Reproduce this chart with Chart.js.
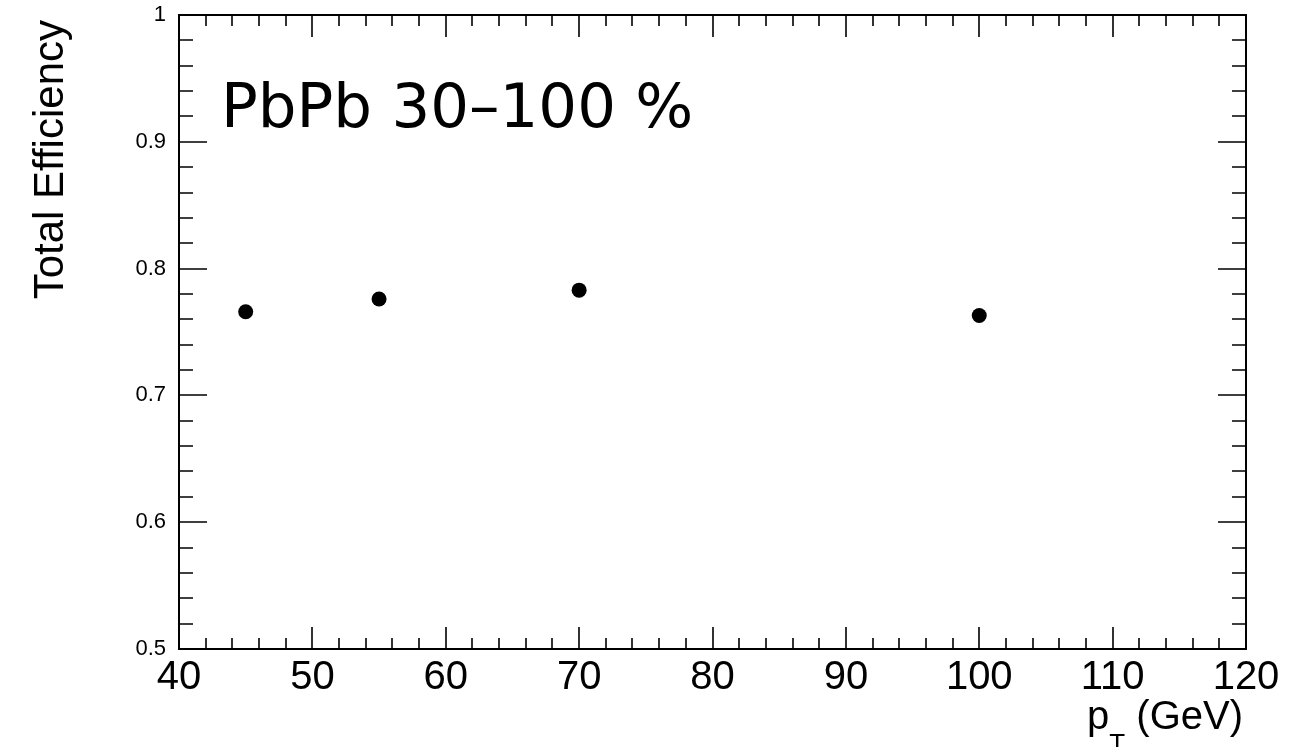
<!DOCTYPE html>
<html><head><meta charset="utf-8">
<script src="https://cdn.jsdelivr.net/npm/chart.js@4"></script>
<style>html,body{margin:0;padding:0;background:#fff;overflow:hidden}canvas{display:block}</style>
</head><body>
<canvas id="c" width="1302" height="747"></canvas>
<script>
const ptValues = [45, 55, 70, 100];
const efficiency = [0.766, 0.776, 0.783, 0.763];
const xTickValues = [40, 50, 60, 70, 80, 90, 100, 110, 120];
const xTickLabels = ['40', '50', '60', '70', '80', '90', '100', '110', '120'];
const yTickValues = [0.5, 0.6, 0.7, 0.8, 0.9, 1.0];
const yTickLabels = ['0.5', '0.6', '0.7', '0.8', '0.9', '1'];
const xMinorStep = 2;
const yMinorStep = 0.02;
const yTitle = 'Total Efficiency';
const xTitleMain = 'p', xTitleSub = 'T', xTitleRest = ' (GeV)';
const annotationText = 'PbPb 30\u2013100 %';

const SANS = "'Liberation Sans', Arial, Helvetica, sans-serif";

const framePlugin = {
  id: 'rootFrame',
  afterDraw(chart) {
    const ctx = chart.ctx, a = chart.chartArea;
    const xs = chart.scales.x, ys = chart.scales.y;
    ctx.save();
    ctx.strokeStyle = '#000';
    ctx.lineWidth = 1.6;
    ctx.beginPath();
    const xMin = xs.min, xMax = xs.max;
    for (let i = 0; xMin + i * xMinorStep <= xMax + 1e-9; i++) {
      const v = xMin + i * xMinorStep;
      const major = xTickValues.some(t => Math.abs(t - v) < 1e-6);
      const len = major ? 22 : 11;
      const px = Math.round(xs.getPixelForValue(v));
      ctx.moveTo(px, a.bottom); ctx.lineTo(px, a.bottom - len);
      ctx.moveTo(px, a.top); ctx.lineTo(px, a.top + len);
    }
    const yMin = ys.min, yMax = ys.max;
    for (let i = 0; yMin + i * yMinorStep <= yMax + 1e-9; i++) {
      const v = yMin + i * yMinorStep;
      const major = yTickValues.some(t => Math.abs(t - v) < 1e-6);
      const len = major ? 28 : 14;
      const py = Math.round(ys.getPixelForValue(v));
      ctx.moveTo(a.left, py); ctx.lineTo(a.left + len, py);
      ctx.moveTo(a.right, py); ctx.lineTo(a.right - len, py);
    }
    ctx.stroke();
    ctx.lineWidth = 2;
    ctx.strokeRect(a.left, a.top, a.right - a.left, a.bottom - a.top);

    ctx.fillStyle = '#000';
    ctx.font = "61px 'DejaVu Sans', sans-serif";
    ctx.textAlign = 'left';
    ctx.textBaseline = 'alphabetic';
    ctx.fillText(annotationText, 221, 127);

    ctx.save();
    ctx.font = '42px ' + SANS;
    ctx.translate(63, 20);
    ctx.rotate(-Math.PI / 2);
    ctx.textAlign = 'right';
    ctx.fillText(yTitle, 0, 0);
    ctx.restore();

    ctx.font = '40px ' + SANS;
    const wMain = ctx.measureText(xTitleMain).width;
    const wRest = ctx.measureText(xTitleRest).width;
    ctx.font = '26px ' + SANS;
    const wSub = ctx.measureText(xTitleSub).width;
    const right = 1243;
    let x0 = right - wMain - wSub - wRest;
    ctx.textAlign = 'left';
    ctx.font = '40px ' + SANS;
    ctx.fillText(xTitleMain, x0, 729);
    ctx.font = '26px ' + SANS;
    ctx.fillText(xTitleSub, x0 + wMain, 752);
    ctx.font = '40px ' + SANS;
    ctx.fillText(xTitleRest, x0 + wMain + wSub, 729);
    ctx.restore();
  }
};

const noPad = s => { s.paddingTop = 0; s.paddingBottom = 0; s.paddingLeft = 0; s.paddingRight = 0; };

new Chart(document.getElementById('c'), {
  type: 'scatter',
  data: {
    datasets: [{
      data: ptValues.map((x, i) => ({ x: x, y: efficiency[i] })),
      backgroundColor: '#000',
      borderWidth: 0,
      pointRadius: 7.5,
      pointHoverRadius: 7.5,
      showLine: false
    }]
  },
  options: {
    responsive: false,
    animation: false,
    devicePixelRatio: 1,
    layout: { padding: { left: 0, top: 15, right: 56, bottom: 0 } },
    plugins: { legend: { display: false }, tooltip: { enabled: false } },
    scales: {
      x: {
        type: 'linear', min: 40, max: 120,
        border: { display: false },
        grid: { display: false, drawTicks: false },
        afterBuildTicks: s => { s.ticks = xTickValues.map(v => ({ value: v })); },
        afterFit: s => { s.height = 98; noPad(s); },
        ticks: {
          padding: 5, color: '#000', maxRotation: 0, autoSkip: false,
          font: { family: SANS, size: 40 },
          callback: (v, i) => xTickLabels[i]
        }
      },
      y: {
        type: 'linear', min: 0.5, max: 1.0,
        border: { display: false },
        grid: { display: false, drawTicks: false },
        afterBuildTicks: s => { s.ticks = yTickValues.map(v => ({ value: v })); },
        afterFit: s => { s.width = 179; noPad(s); },
        ticks: {
          padding: 13, color: '#000', autoSkip: false,
          font: { family: SANS, size: 22 },
          callback: (v, i) => yTickLabels[i]
        }
      }
    }
  },
  plugins: [framePlugin]
});
</script>
</body></html>
